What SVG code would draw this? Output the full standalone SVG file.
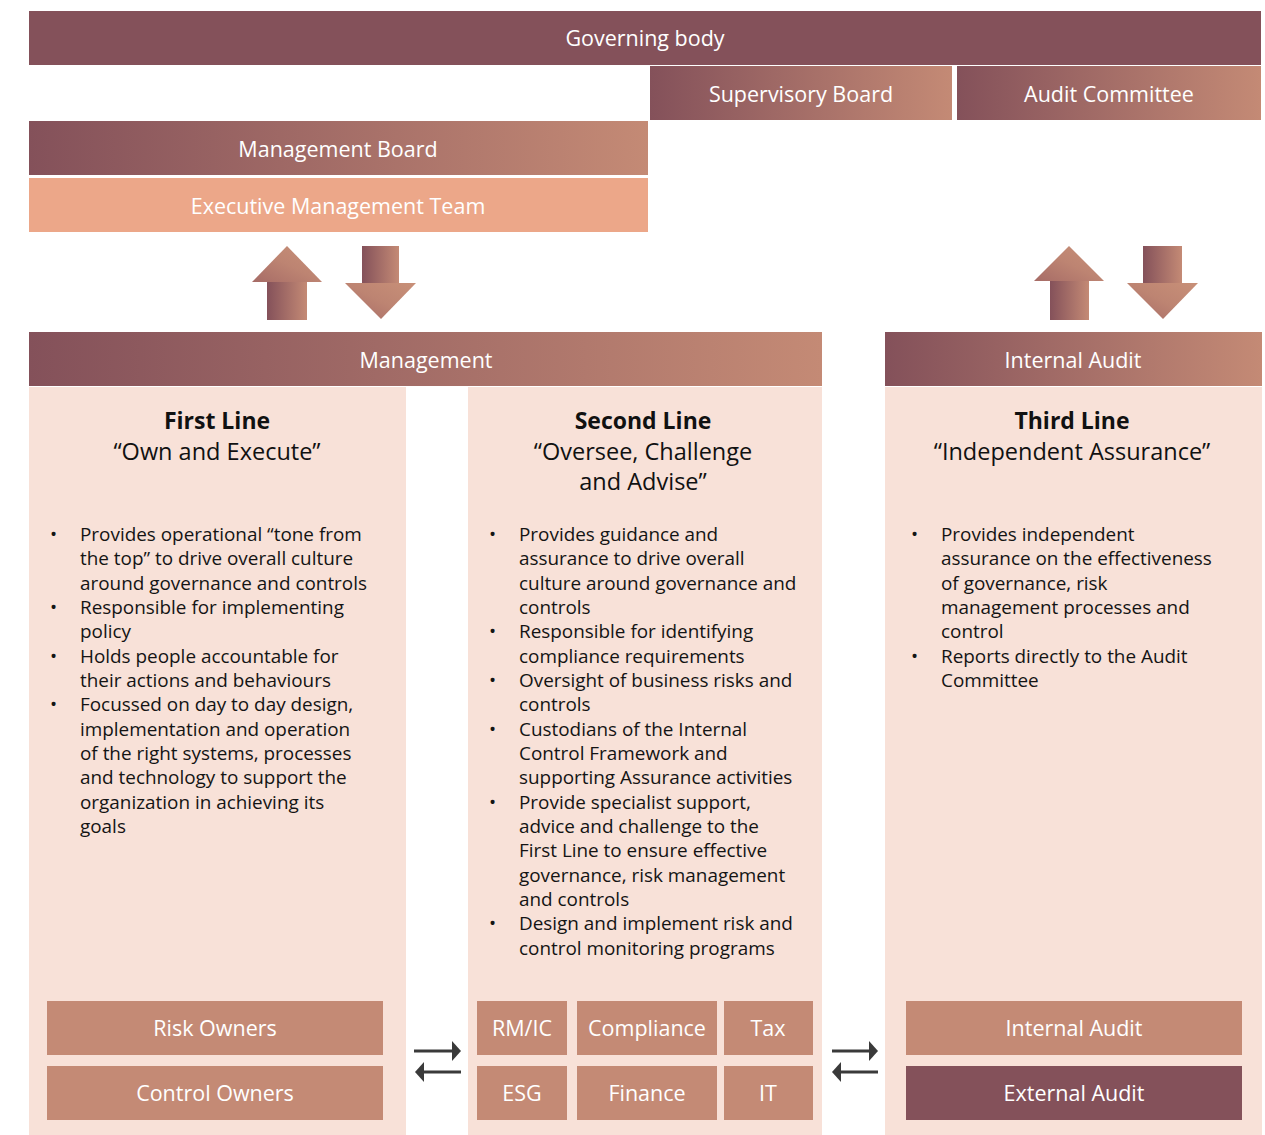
<svg xmlns="http://www.w3.org/2000/svg" width="1265" height="1135" viewBox="0 0 1265 1135">
<defs>
<linearGradient id="g" x1="0" y1="0" x2="1" y2="0">
<stop offset="0" stop-color="#84515a"/>
<stop offset="1" stop-color="#c48a75"/>
</linearGradient>
<linearGradient id="gh" x1="0" y1="1" x2="1" y2="0">
<stop offset="0" stop-color="#a66b66"/>
<stop offset="0.5" stop-color="#bd8472"/>
<stop offset="1" stop-color="#c89078"/>
</linearGradient>
<marker id="ah" viewBox="0 0 9 20" refX="0" refY="10" markerWidth="9" markerHeight="20" markerUnits="userSpaceOnUse" orient="auto">
<path d="M0,0 L9,10 L0,20 z" fill="#3a3a3a"/>
</marker>
<style>
.hd{font-family:"Open Sans","Noto Sans",sans-serif;font-size:21.5px;fill:#ffffff;text-anchor:middle}
.bx{font-family:"Open Sans","Noto Sans",sans-serif;font-size:21.5px;fill:#ffffff;text-anchor:middle}
.tt{font-family:"Open Sans","Noto Sans",sans-serif;font-size:23.5px;fill:#111111;text-anchor:middle}
.tb{font-weight:bold;font-size:23px}
.bl{font-family:"Open Sans","Noto Sans",sans-serif;font-size:18.9px;fill:#141414}
.panel{fill:#f8e1d8}
.box{fill:#c48a75}
.dark{fill:#84515a}
.grad{fill:url(#g)}
.conn{stroke:#3a3a3a;stroke-width:3;fill:none;marker-end:url(#ah)}
</style>
</defs>
<rect width="1265" height="1135" fill="#ffffff"/>

<g id="governing-body"><rect class="dark" x="29" y="11" width="1232" height="54"/><text class="hd" x="645" y="46">Governing body</text></g>
<g id="supervisory-board"><rect class="grad" x="650" y="66" width="302" height="54"/><text class="hd" x="801" y="102">Supervisory Board</text></g>
<g id="audit-committee"><rect class="grad" x="957" y="66" width="304" height="54"/><text class="hd" x="1109" y="102">Audit Committee</text></g>
<g id="management-board"><rect class="grad" x="29" y="121" width="619" height="54"/><text class="hd" x="338" y="157">Management Board</text></g>
<g id="executive-management-team"><rect fill="#eca789" x="29" y="178" width="619" height="54"/><text class="hd" x="338" y="214">Executive Management Team</text></g>

<g id="management"><rect class="grad" x="29" y="332" width="793" height="54"/><text class="hd" x="426" y="368">Management</text></g>
<g id="internal-audit-header"><rect class="grad" x="885" y="332" width="377" height="54"/><text class="hd" x="1073" y="368">Internal Audit</text></g>

<g id="first-line">
<rect class="panel" x="29" y="387" width="377" height="748"/>
<text class="tt tb" x="217" y="429">First Line</text>
<text class="tt" x="217" y="460">“Own and Execute”</text>
<text class="bl"><tspan x="50" y="541">•</tspan><tspan x="50" y="614">•</tspan><tspan x="50" y="663">•</tspan><tspan x="50" y="711">•</tspan></text>
<text class="bl">
<tspan x="80" y="541">Provides operational “tone from</tspan>
<tspan x="80" y="565.3">the top” to drive overall culture</tspan>
<tspan x="80" y="589.6">around governance and controls</tspan>
<tspan x="80" y="614">Responsible for implementing</tspan>
<tspan x="80" y="638.3">policy</tspan>
<tspan x="80" y="662.6">Holds people accountable for</tspan>
<tspan x="80" y="687">their actions and behaviours</tspan>
<tspan x="80" y="711.3">Focussed on day to day design,</tspan>
<tspan x="80" y="735.6">implementation and operation</tspan>
<tspan x="80" y="760">of the right systems, processes</tspan>
<tspan x="80" y="784.3">and technology to support the</tspan>
<tspan x="80" y="808.6">organization in achieving its</tspan>
<tspan x="80" y="833">goals</tspan>
</text>
</g>

<g id="second-line">
<rect class="panel" x="468" y="387" width="354" height="748"/>
<text class="tt tb" x="643" y="429">Second Line</text>
<text class="tt" x="643" y="460">“Oversee, Challenge</text>
<text class="tt" x="643" y="490">and Advise”</text>
<text class="bl"><tspan x="489" y="541">•</tspan><tspan x="489" y="638.3">•</tspan><tspan x="489" y="687">•</tspan><tspan x="489" y="735.6">•</tspan><tspan x="489" y="808.6">•</tspan><tspan x="489" y="930.3">•</tspan></text>
<text class="bl">
<tspan x="519" y="541">Provides guidance and</tspan>
<tspan x="519" y="565.3">assurance to drive overall</tspan>
<tspan x="519" y="589.6">culture around governance and</tspan>
<tspan x="519" y="614">controls</tspan>
<tspan x="519" y="638.3">Responsible for identifying</tspan>
<tspan x="519" y="662.6">compliance requirements</tspan>
<tspan x="519" y="687">Oversight of business risks and</tspan>
<tspan x="519" y="711.3">controls</tspan>
<tspan x="519" y="735.6">Custodians of the Internal</tspan>
<tspan x="519" y="760">Control Framework and</tspan>
<tspan x="519" y="784.3">supporting Assurance activities</tspan>
<tspan x="519" y="808.6">Provide specialist support,</tspan>
<tspan x="519" y="833">advice and challenge to the</tspan>
<tspan x="519" y="857.3">First Line to ensure effective</tspan>
<tspan x="519" y="881.6">governance, risk management</tspan>
<tspan x="519" y="906">and controls</tspan>
<tspan x="519" y="930.3">Design and implement risk and</tspan>
<tspan x="519" y="954.6">control monitoring programs</tspan>
</text>
</g>

<g id="third-line">
<rect class="panel" x="885" y="387" width="377" height="748"/>
<text class="tt tb" x="1072" y="429">Third Line</text>
<text class="tt" x="1072" y="460">“Independent Assurance”</text>
<text class="bl"><tspan x="911" y="541">•</tspan><tspan x="911" y="662.6">•</tspan></text>
<text class="bl">
<tspan x="941" y="541">Provides independent</tspan>
<tspan x="941" y="565.3">assurance on the effectiveness</tspan>
<tspan x="941" y="589.6">of governance, risk</tspan>
<tspan x="941" y="614">management processes and</tspan>
<tspan x="941" y="638.3">control</tspan>
<tspan x="941" y="662.6">Reports directly to the Audit</tspan>
<tspan x="941" y="687">Committee</tspan>
</text>
</g>

<g id="risk-owners"><rect class="box" x="47" y="1001" width="336" height="54"/><text class="bx" x="215" y="1036">Risk Owners</text></g>
<g id="control-owners"><rect class="box" x="47" y="1066" width="336" height="54"/><text class="bx" x="215" y="1101">Control Owners</text></g>
<g id="rm-ic"><rect class="box" x="477" y="1001" width="90" height="54"/><text class="bx" x="522" y="1036">RM/IC</text></g>
<g id="compliance"><rect class="box" x="577" y="1001" width="140" height="54"/><text class="bx" x="647" y="1036">Compliance</text></g>
<g id="tax"><rect class="box" x="724" y="1001" width="89" height="54"/><text class="bx" x="768" y="1036">Tax</text></g>
<g id="esg"><rect class="box" x="477" y="1066" width="90" height="54"/><text class="bx" x="522" y="1101">ESG</text></g>
<g id="finance"><rect class="box" x="577" y="1066" width="140" height="54"/><text class="bx" x="647" y="1101">Finance</text></g>
<g id="it"><rect class="box" x="724" y="1066" width="89" height="54"/><text class="bx" x="768" y="1101">IT</text></g>
<g id="internal-audit"><rect class="box" x="906" y="1001" width="336" height="54"/><text class="bx" x="1074" y="1036">Internal Audit</text></g>
<g id="external-audit"><rect class="dark" x="906" y="1066" width="336" height="54"/><text class="bx" x="1074" y="1101">External Audit</text></g>

<g id="connectors">
<g id="arrow-up-left"><polygon points="287,246 322,282 252,282" fill="url(#gh)"/><rect x="267" y="282" width="40" height="38" fill="url(#g)"/></g>
<g id="arrow-down-left"><rect x="362" y="246" width="37" height="37" fill="url(#g)"/><polygon points="345,283 416,283 381,319" fill="url(#gh)"/></g>
<g id="arrow-up-right"><polygon points="1069,246 1104,281 1034,281" fill="url(#gh)"/><rect x="1050" y="281" width="39" height="39" fill="url(#g)"/></g>
<g id="arrow-down-right"><rect x="1143" y="246" width="39" height="37" fill="url(#g)"/><polygon points="1127,283 1198,283 1163,319" fill="url(#gh)"/></g>
<line class="conn" x1="414" y1="1051" x2="452" y2="1051"/>
<line class="conn" x1="461" y1="1072" x2="424" y2="1072"/>
<line class="conn" x1="832" y1="1051" x2="869" y2="1051"/>
<line class="conn" x1="878" y1="1072" x2="841" y2="1072"/>
</g>
</svg>
